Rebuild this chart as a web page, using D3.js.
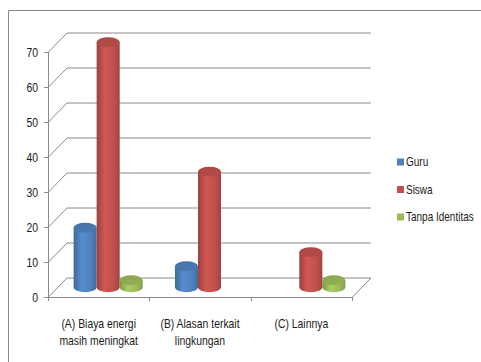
<!DOCTYPE html>
<html>
<head>
<meta charset="utf-8">
<script src="https://cdn.jsdelivr.net/npm/d3@7"></script>
<style>
  html, body { margin: 0; padding: 0; background: #fff; }
  svg { display: block; }
  text { font-family: "Liberation Sans", Arial, sans-serif; fill: #1a1a1a; }
</style>
</head>
<body>
<script>
// Alasan penggunaan energi: jumlah responden per kategori
const categories = [["(A) Biaya energi", "masih meningkat"], ["(B) Alasan terkait", "lingkungan"], ["(C) Lainnya"]];
const seriesNames = ["Guru", "Siswa", "Tanpa Identitas"];
const guru = [17, 6, 0];
const siswa = [70, 33, 10];
const tanpaIdentitas = [2, 0, 2];
const yTicks = [0, 10, 20, 30, 40, 50, 60, 70];
const seriesColors = ["#4F81BD", "#C0504D", "#9BBB59"];

const values = [guru, siswa, tanpaIdentitas];
const W = 481, H = 362;
const depth = { dx: 19, dy: -19.5 };
const narrow = 0.8; // horizontal squeeze for a condensed label face

const svg = d3.select("body").append("svg").attr("width", W).attr("height", H);
const grey = "#8a8a8a";

// condensed text placed at (tx, ty)
function label(parent, tx, ty, str, size, anchor) {
  return parent.append("text")
    .attr("transform", `translate(${tx},${ty}) scale(${narrow},1)`)
    .attr("text-anchor", anchor || "start")
    .attr("font-size", size)
    .text(str);
}

// outer chart frame
svg.append("path")
  .attr("d", `M8.5,${H} V10.5 H${W}`)
  .attr("fill", "none").attr("stroke", grey).attr("stroke-width", 1);

const y = d3.scaleLinear().domain([0, 70]).range([297, 52]);
const x = d3.scaleBand().domain(d3.range(categories.length)).range([48, 352]);
const xs = d3.scaleBand().domain(d3.range(seriesNames.length))
  .range([0, x.bandwidth()]).paddingOuter(0.7).paddingInner(0);

const x0 = x.range()[0], x1 = x.range()[1];

// back wall gridlines with their diagonal side-wall links
const grid = svg.append("g").attr("fill", "none").attr("stroke", grey).attr("stroke-width", 1);
yTicks.forEach(t => {
  const yy = Math.round(y(t)) + 0.5;
  grid.append("path")
    .attr("d", `M${x0},${yy} L${x0 + depth.dx},${yy + depth.dy} H${x1 + depth.dx}`);
});
// floor outline
grid.append("path")
  .attr("d", `M${x0},${Math.round(y(0)) + 0.5} H${x1} L${x1 + depth.dx},${Math.round(y(0)) + 0.5 + depth.dy}`);

// value axis
const axisG = svg.append("g").attr("stroke", grey).attr("stroke-width", 1);
axisG.append("line").attr("x1", x0 + 0.5).attr("x2", x0 + 0.5).attr("y1", y(70)).attr("y2", y(0));
yTicks.forEach(t => {
  const yy = Math.round(y(t)) + 0.5;
  axisG.append("line").attr("x1", x0 - 4).attr("x2", x0).attr("y1", yy).attr("y2", yy);
});
const tickG = svg.append("g");
yTicks.forEach(t => label(tickG, x0 - 10, y(t) + 4.5, t, 13, "end"));

// category ticks along the floor front edge
[...d3.range(categories.length).map(i => x(i)), x1].forEach(cx => {
  axisG.append("line").attr("x1", Math.round(cx) + 0.5).attr("x2", Math.round(cx) + 0.5)
    .attr("y1", y(0)).attr("y2", y(0) + 4);
});

// category labels
const catG = svg.append("g");
categories.forEach((lines, i) => {
  lines.forEach((ln, k) => {
    label(catG, x(i) + x.bandwidth() / 2, 328 + k * 17, ln, 13, "middle");
  });
});

// cylinder shading gradients
const defs = svg.append("defs");
seriesColors.forEach((c, s) => {
  const base = d3.color(c);
  const g = defs.append("linearGradient").attr("id", "cyl" + s)
    .attr("x1", "0%").attr("x2", "100%").attr("y1", "0%").attr("y2", "0%");
  g.append("stop").attr("offset", "0%").attr("stop-color", base.darker(0.6));
  g.append("stop").attr("offset", "35%").attr("stop-color", base.brighter(0.25));
  g.append("stop").attr("offset", "75%").attr("stop-color", base);
  g.append("stop").attr("offset", "100%").attr("stop-color", base.darker(0.5));
  const gt = defs.append("linearGradient").attr("id", "top" + s)
    .attr("x1", "0%").attr("x2", "100%").attr("y1", "0%").attr("y2", "100%");
  gt.append("stop").attr("offset", "0%").attr("stop-color", base.darker(0.35));
  gt.append("stop").attr("offset", "100%").attr("stop-color", base.darker(0.15));
});

// cylinders, placed half-way into the depth
const bars = svg.append("g");
const rx = xs.bandwidth() / 2, ry = 5;
categories.forEach((_, i) => {
  seriesNames.forEach((_, s) => {
    const v = values[s][i];
    if (!v) return;
    const left = x(i) + xs(s) + depth.dx / 2;
    const right = left + xs.bandwidth();
    const yb = y(0) + depth.dy / 2;
    const yt = y(v) + depth.dy / 2;
    bars.append("path")
      .attr("d", `M${left},${yt} V${yb} A${rx},${ry} 0 0 0 ${right},${yb} V${yt} Z`)
      .attr("fill", `url(#cyl${s})`);
    bars.append("ellipse")
      .attr("cx", left + rx).attr("cy", yt).attr("rx", rx).attr("ry", ry)
      .attr("fill", `url(#top${s})`);
  });
});

// legend
const legend = svg.append("g");
seriesNames.forEach((name, s) => {
  const ly = 162 + s * 27.5;
  legend.append("rect").attr("x", 397).attr("y", ly - 3.5).attr("width", 7).attr("height", 7)
    .attr("fill", seriesColors[s]);
  label(legend, 406, ly + 4, name, 12.5);
});
</script>
</body>
</html>
